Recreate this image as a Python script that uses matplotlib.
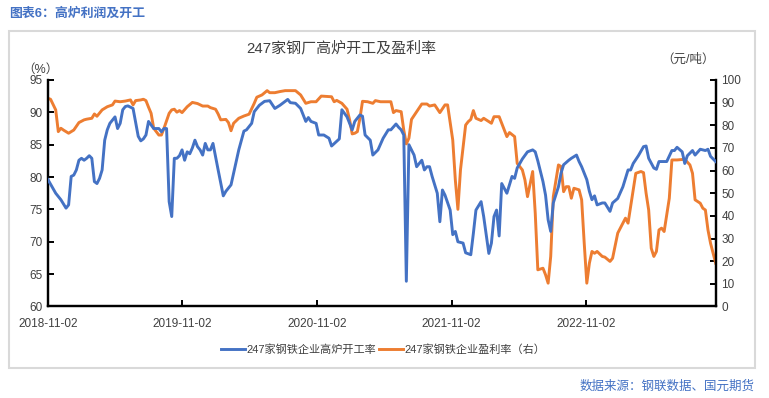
import numpy as np
import pandas as pd
import matplotlib
matplotlib.use('Agg')
import matplotlib.pyplot as plt
import matplotlib.dates as mdates
from matplotlib.patches import Rectangle

plt.rcParams['font.family'] = ['Liberation Sans', 'Noto Sans CJK SC', 'DejaVu Sans']

# 数据（周序号，从2018-11-02起）
start = '2018-11-02'
wk_open = [0, 3, 5, 7, 8, 9, 10, 11, 12, 13, 14, 15, 16, 17, 18, 19, 20, 21, 22, 23,
           24, 26, 27, 28, 29, 30, 31, 33, 35, 36, 37, 38, 39, 41, 43, 44, 45, 46, 47, 48,
           49, 50, 51, 52, 53, 54, 55, 56, 57, 58, 59, 60, 61, 62, 63, 64, 66, 68, 69, 71,
           72, 74, 76, 77, 79, 80, 82, 84, 86, 88, 90, 91, 93, 94, 96, 98, 100, 101, 102, 104,
           105, 107, 109, 110, 113, 114, 116, 118, 119, 121, 122, 123, 125, 126, 128, 130, 132, 133, 135, 136,
           137, 138, 139, 140, 142, 143, 145, 146, 147, 148, 149, 151, 152, 153, 154, 156, 157, 158, 159, 161,
           162, 164, 165, 166, 168, 169, 171, 172, 173, 174, 175, 176, 178, 180, 181, 182, 184, 186, 188, 189,
           190, 192, 193, 194, 195, 196, 198, 199, 200, 202, 203, 205, 206, 207, 209, 210, 211, 212, 213, 215,
           216, 218, 219, 221, 223, 225, 226, 227, 229, 231, 232, 233, 235, 236, 237, 240, 242, 243, 244, 246,
           247, 248, 250, 251, 253, 255, 256, 257, 259]
kaigong = [79.6, 77.5, 76.5, 75.2, 75.7, 80.1, 80.3, 81.1, 82.6, 82.9, 82.6, 82.9, 83.3, 82.9, 79.3, 79.0, 79.8, 81.1, 85.7, 87.3,
           88.3, 89.3, 87.5, 88.3, 90.4, 90.9, 91.0, 90.6, 86.3, 85.6, 85.9, 86.5, 88.6, 87.5, 87.5, 87.0, 87.5, 87.5, 76.2, 73.9,
           82.9, 82.9, 83.3, 84.2, 82.6, 83.9, 83.6, 84.5, 85.7, 84.7, 84.2, 83.4, 85.2, 84.2, 84.2, 85.2, 81.1, 77.1, 77.8, 78.8,
           80.6, 84.2, 87.1, 87.3, 88.3, 90.1, 91.1, 91.7, 91.8, 90.6, 91.1, 91.4, 92.0, 91.5, 91.4, 90.6, 88.6, 89.2, 88.6, 88.3,
           86.5, 86.5, 86.0, 84.8, 85.9, 90.4, 89.3, 87.3, 88.6, 89.6, 89.4, 86.5, 85.7, 83.4, 84.2, 86.0, 87.3, 87.3, 88.2, 87.7,
           87.3, 86.5, 63.9, 85.0, 83.4, 81.6, 82.6, 81.1, 81.6, 81.6, 80.1, 77.5, 73.1, 78.0, 77.2, 74.9, 71.1, 71.6, 70.0, 69.8,
           68.3, 68.0, 71.3, 74.9, 76.2, 73.9, 68.2, 69.8, 73.9, 74.9, 70.9, 79.0, 77.5, 80.1, 79.8, 81.4, 82.8, 83.9, 84.2, 83.9,
           82.5, 79.3, 77.2, 73.4, 71.6, 76.0, 78.5, 80.6, 81.9, 82.6, 82.9, 83.4, 82.4, 81.6, 79.6, 77.8, 76.5, 77.1, 75.7, 76.0,
           76.0, 74.7, 76.0, 76.7, 78.5, 81.1, 81.1, 82.1, 83.3, 84.7, 84.8, 82.9, 81.4, 81.2, 82.4, 82.4, 84.1, 84.1, 84.6, 83.9,
           82.1, 83.3, 84.1, 83.4, 84.3, 84.1, 84.3, 83.2, 82.4]

wk_profit = [0, 1, 3, 4, 5, 6, 7, 8, 10, 12, 14, 15, 17, 18, 19, 21, 23, 25, 26, 28,
             30, 32, 33, 34, 36, 37, 38, 39, 40, 41, 42, 43, 44, 45, 47, 48, 49, 50, 51, 52,
             54, 56, 58, 60, 62, 63, 65, 66, 67, 69, 70, 71, 72, 74, 76, 78, 80, 81, 83, 85,
             86, 88, 90, 92, 96, 98, 100, 102, 104, 106, 110, 111, 112, 114, 116, 117, 118, 119, 120, 121,
             122, 124, 126, 127, 129, 132, 133, 134, 135, 137, 138, 139, 140, 141, 143, 145, 147, 148, 150, 152,
             154, 155, 157, 158, 159, 160, 162, 163, 164, 165, 166, 168, 169, 172, 173, 175, 176, 178, 179, 181,
             182, 184, 185, 186, 188, 189, 190, 192, 193, 194, 195, 196, 198, 199, 200, 201, 202, 203, 204, 206,
             207, 208, 209, 210, 211, 212, 213, 215, 216, 218, 219, 221, 222, 224, 225, 226, 228, 230, 231, 232,
             233, 234, 235, 236, 237, 238, 239, 241, 242, 244, 247, 249, 250, 251, 253, 254, 255, 256, 257, 259]
yingli = [91.9, 91.5, 86.8, 77.2, 78.7, 77.9, 77.2, 76.5, 77.9, 81.2, 82.4, 82.7, 83.1, 85.0, 84.0, 86.8, 88.2, 89.0, 90.7, 90.4,
          90.7, 91.2, 89.0, 90.9, 91.2, 91.5, 90.9, 88.0, 85.3, 78.7, 77.2, 75.7, 75.7, 78.7, 85.3, 86.8, 87.1, 85.8, 86.5, 85.6,
          88.2, 90.1, 89.6, 88.5, 88.5, 87.8, 87.1, 85.0, 82.4, 82.6, 81.2, 77.6, 80.9, 83.1, 84.1, 84.9, 89.7, 92.4, 93.4, 95.3,
          94.4, 94.4, 94.9, 95.3, 95.3, 93.4, 89.7, 90.4, 90.4, 92.9, 92.6, 90.4, 91.0, 89.7, 87.1, 82.4, 76.2, 76.5, 77.2, 83.1,
          90.6, 90.4, 89.7, 90.9, 90.4, 90.4, 90.4, 85.6, 86.5, 86.0, 77.9, 71.8, 74.3, 82.6, 86.0, 89.4, 89.4, 88.5, 89.0, 85.6,
          89.0, 89.0, 73.5, 55.9, 42.9, 60.3, 80.1, 81.6, 82.6, 86.5, 83.1, 82.1, 83.1, 80.9, 83.8, 83.8, 80.9, 75.0, 76.8, 75.0,
          63.2, 60.3, 55.9, 48.5, 59.6, 41.2, 16.2, 16.9, 14.0, 10.3, 22.1, 48.5, 62.5, 61.8, 50.7, 52.9, 52.9, 47.8, 52.2, 51.5,
          47.1, 27.9, 10.3, 19.1, 24.3, 23.5, 24.3, 22.1, 21.8, 19.9, 21.3, 32.4, 34.6, 39.0, 36.8, 44.1, 58.8, 59.6, 59.1, 50.0,
          42.6, 25.7, 22.1, 24.3, 33.8, 34.6, 33.1, 47.8, 64.7, 64.7, 65.0, 62.5, 58.8, 47.1, 45.6, 43.4, 42.6, 33.8, 27.9, 19.1]

xticks = ['2018-11-02', '2019-11-02', '2020-11-02', '2021-11-02', '2022-11-02']

t0 = pd.Timestamp(start)
d_open = t0 + pd.to_timedelta(np.array(wk_open) * 7, unit='D')
d_profit = t0 + pd.to_timedelta(np.array(wk_profit) * 7, unit='D')

blue = '#4472C4'
orange = '#ED7D31'

fig = plt.figure(figsize=(7.69, 3.98), dpi=100)
ax = fig.add_axes([0.0624, 0.2299, 0.8683, 0.5691])
ax2 = ax.twinx()

l1, = ax.plot(d_open, kaigong, color=blue, lw=2.1, zorder=3)
l2, = ax2.plot(d_profit, yingli, color=orange, lw=2.1)
ax.set_zorder(ax2.get_zorder() + 1)
ax.patch.set_visible(False)

ax.set_xlim(t0, t0 + pd.Timedelta(days=259 * 7))
ax.set_ylim(60, 95)
ax.set_yticks(np.arange(60, 96, 5))
ax2.set_ylim(0, 100)
ax2.set_yticks(np.arange(0, 101, 10))
ax.set_xticks(pd.to_datetime(xticks))
ax.xaxis.set_major_formatter(mdates.DateFormatter('%Y-%m-%d'))

for a in (ax, ax2):
    a.spines['top'].set_visible(False)
    for s in ('left', 'right', 'bottom'):
        a.spines[s].set_linewidth(1.6)
        a.spines[s].set_color('black')
    a.tick_params(direction='in', length=4, width=1.4, labelsize=8.5, colors='black', labelcolor='#404040', pad=4)
ax.tick_params(axis='x', pad=8)

# 文字
fig.text(9 / 769, 1 - 14 / 398, '图表6：高炉利润及开工', color='#4472C4', fontsize=9.3, fontweight='bold',
         ha='left', va='center')
fig.text(341 / 769, 1 - 48 / 398, '247家钢厂高炉开工及盈利率', color='#404040', fontsize=10.8,
         ha='center', va='center')
fig.text(40 / 769, 1 - 70 / 398, '（%）', color='#404040', fontsize=9, ha='center', va='center')
fig.text(688 / 769, 1 - 60 / 398, '（元/吨）', color='#404040', fontsize=9, ha='center', va='center')
fig.text(755 / 769, 1 - 387 / 398, '数据来源：钢联数据、国元期货', color='#4472C4', fontsize=9,
         ha='right', va='center')

fig.legend([l1, l2], ['247家钢铁企业高炉开工率', '247家钢铁企业盈利率（右）'], loc='center',
           bbox_to_anchor=(383 / 769, 1 - 350 / 398), ncol=2, frameon=False, fontsize=8,
           handlelength=2.2, handletextpad=0.1, columnspacing=0.2, labelcolor='#404040')

# 外框
fig.patches.append(Rectangle((9 / 769, 30 / 398), 746 / 769, 337 / 398, transform=fig.transFigure,
                             fill=False, edgecolor='#D9D9D9', lw=1.5))

fig.savefig('out.png', dpi=100)
